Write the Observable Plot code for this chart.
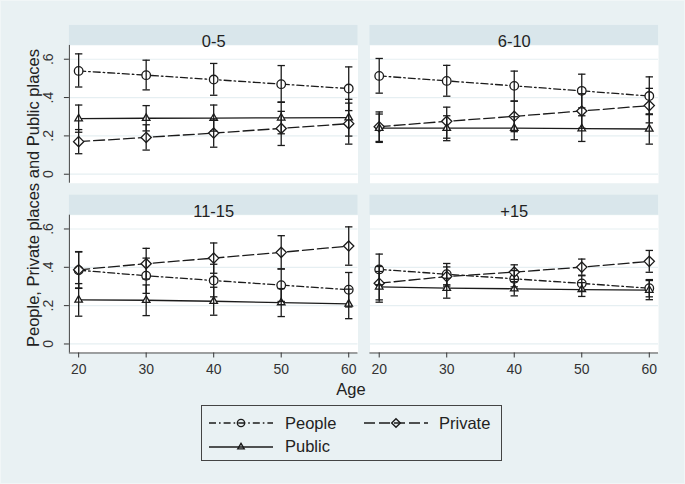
<!DOCTYPE html>
<html>
<head>
<meta charset="utf-8">
<script src="https://cdn.jsdelivr.net/npm/d3@7"></script>
<script src="https://cdn.jsdelivr.net/npm/@observablehq/plot@0.6"></script>
<style>
  html, body { margin: 0; padding: 0; background: #f1f6f7; }
  #wrap { position: relative; width: 683px; height: 482px; margin: 1px; background: #e9f1f3;
          font-family: Arial, "Liberation Sans", sans-serif; color: #222; overflow: hidden; }
  #chart { position: absolute; left: -1px; top: -1px; }
  .ytitle { position: absolute; left: 32px; top: 197px; transform: translate(-50%, -50%) rotate(-90deg);
            font-size: 16.5px; white-space: nowrap; line-height: 17px; }
  .xtitle { position: absolute; left: 350px; top: 380px; transform: translateX(-50%);
            font-size: 16.5px; line-height: 17px; }
  #legend { position: absolute; left: 200px; top: 404px; }
</style>
</head>
<body>
<div id="wrap">
  <div id="chart"></div>
  <div class="ytitle">People, Private places and Public places</div>
  <div class="xtitle">Age</div>
  <svg id="legend" width="302" height="57"></svg>
</div>
<script>
// ---- data ----
const groups = ["0-5", "6-10", "11-15", "+15"];
const ages = [20, 30, 40, 50, 60];
const yTicks = [0, 0.2, 0.4, 0.6];
const seriesNames = ["People", "Private", "Public"];

const peopleEst = [
  [0.539, 0.517, 0.494, 0.470, 0.447],
  [0.513, 0.487, 0.461, 0.435, 0.408],
  [0.385, 0.356, 0.331, 0.307, 0.283],
  [0.389, 0.364, 0.340, 0.316, 0.291]
];
const peopleLo = [
  [0.455, 0.440, 0.412, 0.375, 0.332],
  [0.423, 0.407, 0.381, 0.346, 0.311],
  [0.290, 0.264, 0.246, 0.222, 0.193],
  [0.309, 0.309, 0.298, 0.276, 0.246]
];
const peopleHi = [
  [0.628, 0.595, 0.578, 0.567, 0.560],
  [0.604, 0.568, 0.538, 0.522, 0.508],
  [0.480, 0.448, 0.416, 0.392, 0.373],
  [0.469, 0.420, 0.383, 0.356, 0.336]
];

const privateEst = [
  [0.170, 0.192, 0.215, 0.239, 0.264],
  [0.248, 0.276, 0.302, 0.330, 0.358],
  [0.387, 0.419, 0.448, 0.478, 0.511],
  [0.317, 0.352, 0.375, 0.401, 0.431]
];
const privateLo = [
  [0.107, 0.126, 0.141, 0.150, 0.157],
  [0.171, 0.188, 0.222, 0.240, 0.268],
  [0.292, 0.339, 0.369, 0.391, 0.411],
  [0.230, 0.302, 0.337, 0.359, 0.374]
];
const privateHi = [
  [0.233, 0.258, 0.289, 0.328, 0.371],
  [0.325, 0.350, 0.382, 0.420, 0.448],
  [0.482, 0.499, 0.527, 0.565, 0.611],
  [0.404, 0.402, 0.413, 0.443, 0.488]
];

const publicEst = [
  [0.290, 0.292, 0.293, 0.294, 0.295],
  [0.240, 0.240, 0.240, 0.238, 0.236],
  [0.230, 0.228, 0.223, 0.216, 0.209],
  [0.298, 0.291, 0.288, 0.284, 0.281]
];
const publicLo = [
  [0.219, 0.226, 0.225, 0.211, 0.199],
  [0.166, 0.175, 0.180, 0.171, 0.157],
  [0.145, 0.148, 0.150, 0.143, 0.132],
  [0.218, 0.239, 0.251, 0.248, 0.231]
];
const publicHi = [
  [0.361, 0.358, 0.361, 0.377, 0.391],
  [0.314, 0.305, 0.300, 0.305, 0.315],
  [0.315, 0.308, 0.296, 0.289, 0.286],
  [0.378, 0.343, 0.325, 0.320, 0.331]
];

// scale settings
const xDomain = [18.63, 61.37];
const yDomain = [-0.047, 0.672];

// ---- build tables ----
const seriesTables = {
  People: [peopleEst, peopleLo, peopleHi],
  Private: [privateEst, privateLo, privateHi],
  Public: [publicEst, publicLo, publicHi]
};
const rows = [];
groups.forEach((g, gi) => {
  ages.forEach((a, ai) => {
    for (const s of seriesNames) {
      const [est, lo, hi] = seriesTables[s];
      rows.push({group: g, col: gi % 2, row: Math.floor(gi / 2), age: a, series: s,
                 est: est[gi][ai], lo: lo[gi][ai], hi: hi[gi][ai]});
    }
  });
});
const cells = groups.map((g, gi) => ({group: g, col: gi % 2, row: Math.floor(gi / 2)}));

const ink = "#1b1b1b";
const capSymbol = {draw(ctx) { ctx.moveTo(-3.7, 0); ctx.lineTo(3.7, 0); }};
const styles = {
  People: {dash: "7,3,1.6,3", symbol: "circle", r: 4.3},
  Private: {dash: "11,4", symbol: "diamond2", r: 4.6},
  Public: {dash: null, symbol: "triangle2", r: 3.6}
};
const fmt = d => d === 0 ? "0" : d3.format(".1f")(d).replace(/^0/, "");

const lineMarks = seriesNames.map(s => Plot.line(rows.filter(d => d.series === s), {
  fx: "col", fy: "row", x: "age", y: "est", stroke: ink, strokeWidth: 1.3,
  strokeDasharray: styles[s].dash || undefined
}));
const dotMarks = seriesNames.map(s => Plot.dot(rows.filter(d => d.series === s), {
  fx: "col", fy: "row", x: "age", y: "est", symbol: styles[s].symbol, r: styles[s].r,
  fill: "white", stroke: ink, strokeWidth: 1.3
}));

const chart = Plot.plot({
  width: 685,
  height: 402,
  marginLeft: 69,
  marginRight: 25,
  marginTop: 45,
  marginBottom: 49,
  style: {background: "transparent", fontFamily: "Arial, 'Liberation Sans', sans-serif", color: "#333"},
  x: {domain: xDomain, label: null},
  y: {domain: yDomain, label: null},
  fx: {domain: [0, 1], axis: null, paddingInner: 12 / 302, paddingOuter: 0},
  fy: {domain: [0, 1], axis: null, paddingInner: 32 / 170, paddingOuter: 0},
  marks: [
    Plot.frame({fill: "white", stroke: "none"}),
    Plot.rect(cells, {fx: "col", fy: "row", x1: xDomain[0], x2: xDomain[1],
      y1: yDomain[1], y2: yDomain[1], insetTop: -20, fill: "#d9e6eb"}),
    Plot.text(cells, {fx: "col", fy: "row", text: "group", frameAnchor: "top", dy: -10,
      fontSize: 16.5, fill: "#222"}),
    Plot.gridY(yTicks, {stroke: "#e6eff2", strokeOpacity: 1, strokeWidth: 1.2}),
    Plot.ruleX(cells.filter(d => d.col === 0), {fx: "col", fy: "row", x: xDomain[0], stroke: "#444"}),
    Plot.ruleY(cells.filter(d => d.row === 1), {fx: "col", fy: "row", y: yDomain[0], stroke: "#444"}),
    ...lineMarks,
    ...dotMarks,
    Plot.ruleX(rows, {fx: "col", fy: "row", x: "age", y1: "lo", y2: "hi", stroke: ink, strokeWidth: 1.3}),
    Plot.dot(rows, {fx: "col", fy: "row", x: "age", y: "lo", symbol: capSymbol, fill: "none", stroke: ink, strokeWidth: 1.3}),
    Plot.dot(rows, {fx: "col", fy: "row", x: "age", y: "hi", symbol: capSymbol, fill: "none", stroke: ink, strokeWidth: 1.3}),
    Plot.axisY(yTicks, {tickFormat: fmt, tickRotate: -90, tickSize: 5, tickPadding: 11, fontSize: 14, label: null}),
    Plot.axisX(ages, {tickSize: 5, tickPadding: 6, fontSize: 14, label: null})
  ]
});
document.getElementById("chart").appendChild(chart);

// ---- legend ----
const lg = d3.select("#legend");
lg.append("rect").attr("x", 0.5).attr("y", 0.5).attr("width", 300).attr("height", 55)
  .attr("fill", "none").attr("stroke", "#444").attr("stroke-width", 1);
const legendItems = [
  {s: "People", x: 8, y: 18, tx: 84, ty: 23.5},
  {s: "Private", x: 163, y: 18, tx: 238, ty: 23.5},
  {s: "Public", x: 8, y: 42, tx: 84, ty: 47}
];
for (const it of legendItems) {
  const st = styles[it.s];
  lg.append("line").attr("x1", it.x).attr("x2", it.x + 64).attr("y1", it.y).attr("y2", it.y)
    .attr("stroke", ink).attr("stroke-width", 1.3).attr("stroke-dasharray", st.dash);
  const sym = d3.symbol(st.symbol === "circle" ? d3.symbolCircle : st.symbol === "diamond2" ? d3.symbolDiamond2 : d3.symbolTriangle2,
    Math.PI * (st.r * 0.85) ** 2);
  lg.append("path").attr("d", sym()).attr("transform", `translate(${it.x + 32},${it.y})`)
    .attr("fill", "none").attr("stroke", ink).attr("stroke-width", 1.4);
  lg.append("text").attr("x", it.tx).attr("y", it.ty).text(it.s)
    .attr("font-size", 16.5).attr("fill", "#222").attr("font-family", "Arial, 'Liberation Sans', sans-serif");
}
</script>
</body>
</html>
